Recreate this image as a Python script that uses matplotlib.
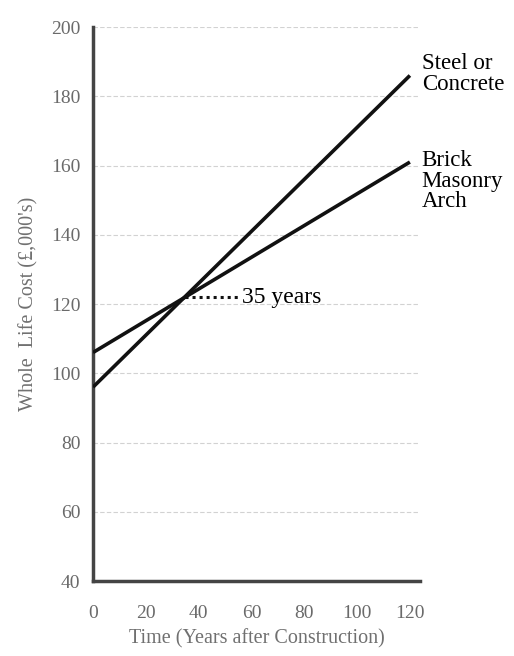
import matplotlib.pyplot as plt

plt.rcParams['font.family'] = ['Liberation Serif', 'DejaVu Serif']

years = [0, 120]
steel_cost = [96, 186]
brick_cost = [106, 161]
break_even = 34.3
break_even_cost = 122
y_ticks = [40, 60, 80, 100, 120, 140, 160, 180, 200]
x_ticks = [0, 20, 40, 60, 80, 100, 120]

fig = plt.figure(figsize=(5.14, 6.56), dpi=100)
ax = fig.add_axes([0.181, 0.1143, 0.636, 0.8445])

for yv in y_ticks[1:]:
    ax.axhline(yv, color='#d2d2d2', lw=0.8, ls=(0, (4, 2)), zorder=1)

ax.plot(years, steel_cost, color='#111111', lw=2.6, solid_capstyle='butt', zorder=3)
ax.plot(years, brick_cost, color='#111111', lw=2.6, solid_capstyle='butt', zorder=3)
# dotted marker from the crossing point to the label
ax.plot([break_even + 0.5, 55.5], [break_even_cost, break_even_cost],
        color='#111111', lw=2.2, ls=(0, (1, 1.3)), zorder=3)
ax.text(56.5, break_even_cost, '35 years', fontsize=17, va='center', ha='left')

ax.text(124.5, steel_cost[1] + 0.5, 'Steel or\nConcrete', fontsize=16.5,
        va='center', ha='left', linespacing=1.0, clip_on=False)
ax.text(124.5, brick_cost[1] - 5.5, 'Brick\nMasonry\nArch', fontsize=16.5,
        va='center', ha='left', linespacing=0.95, clip_on=False)

ax.set_xlim(0, 123.8)
ax.set_ylim(40, 200)
ax.set_xticks(x_ticks)
ax.set_yticks(y_ticks)
ax.tick_params(length=0, labelsize=14, colors='#6a6a6a')
ax.tick_params(axis='x', pad=17)
ax.tick_params(axis='y', pad=9)

for s in ['top', 'right']:
    ax.spines[s].set_visible(False)
for s in ['left', 'bottom']:
    ax.spines[s].set_color('#444444')
    ax.spines[s].set_linewidth(2.5)

ax.set_ylabel("Whole  Life Cost (£,000's)", fontsize=14.5, color='#707070', labelpad=9)
ax.set_xlabel('Time (Years after Construction)', fontsize=14.5, color='#707070', labelpad=5)

fig.savefig('out.png', dpi=100)
